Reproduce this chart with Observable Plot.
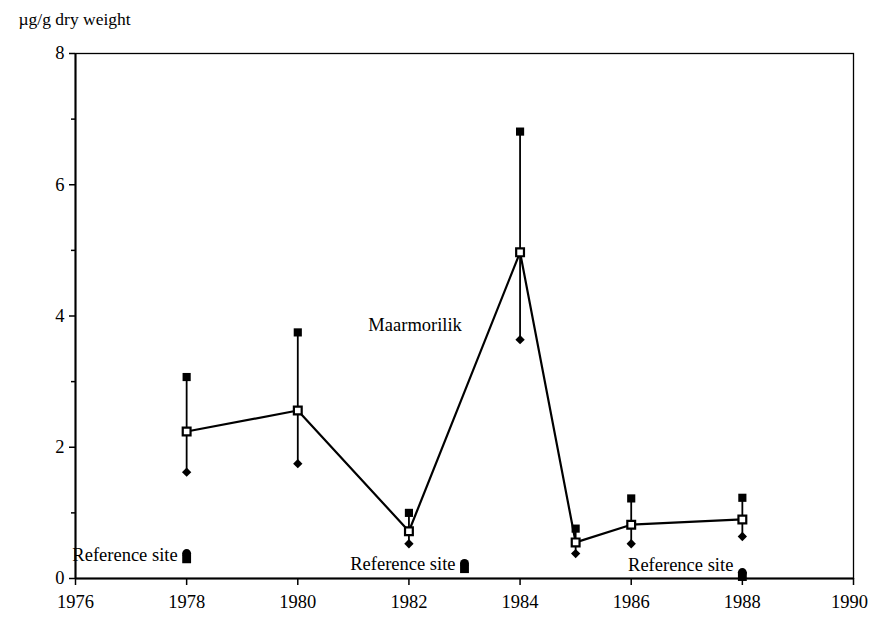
<!DOCTYPE html>
<html>
<head>
<meta charset="utf-8">
<script src="https://cdn.jsdelivr.net/npm/d3@7"></script>
<script src="https://cdn.jsdelivr.net/npm/@observablehq/plot@0.6"></script>
<style>
  body { margin: 0; background: #fff; }
  svg, svg text { font-family: "Liberation Serif", "DejaVu Serif", serif !important; }
</style>
</head>
<body>
<div id="chart"></div>
<script>
// Maarmorilik series
const years = [1978, 1980, 1982, 1984, 1985, 1986, 1988];
const means = [2.24, 2.56, 0.72, 4.97, 0.55, 0.82, 0.90];
const upper = [3.07, 3.75, 1.00, 6.81, 0.76, 1.22, 1.23];
const lower = [1.62, 1.75, 0.53, 3.64, 0.38, 0.53, 0.64];

// Reference site series
const refYears = [1978, 1983, 1988];
const refUpper = [0.38, 0.23, 0.09];
const refLower = [0.30, 0.15, 0.03];
const refLabelY = [0.36, 0.22, 0.20];

const xTicks = [1976, 1978, 1980, 1982, 1984, 1986, 1988];
const xLastTick = [1990];
const yTicks = [0, 2, 4, 6, 8];
const yMinorTicks = [1, 3, 5, 7];
const yLabel = "µg/g dry weight";
const siteLabel = "Maarmorilik";
const refLabel = "Reference site";

const main = years.map((x, i) => ({x, mean: means[i], hi: upper[i], lo: lower[i]}));
const ref = refYears.map((x, i) => ({x, hi: refUpper[i], lo: refLower[i], ly: refLabelY[i]}));

const FF = "Liberation Serif";
const chart = Plot.plot({
  width: 869,
  height: 620,
  marginLeft: 75,
  marginRight: 16,
  marginTop: 53,
  marginBottom: 42,
  style: {fontFamily: FF, fontSize: "18px", color: "black", background: "white"},
  x: {domain: [1976, 1990]},
  y: {domain: [0, 8]},
  marks: [
    Plot.frame({stroke: "black", strokeWidth: 1.3}),
    Plot.ruleX([1976], {stroke: "black", strokeWidth: 2}),
    Plot.ruleY([0], {stroke: "black", strokeWidth: 2}),
    Plot.axisX({ticks: xTicks, tickFormat: d => String(d), tickSize: 7, tickPadding: 9, fontSize: 18.5, fontFamily: FF, label: null, strokeWidth: 1.5}),
    Plot.axisX({ticks: xLastTick, tickSize: 7, text: null, label: null, strokeWidth: 1.5}),
    Plot.axisX({ticks: xLastTick, tickFormat: d => String(d), tickSize: 0, tickPadding: 16, fontSize: 18.5, fontFamily: FF, label: null, dx: -4}),
    Plot.axisY({ticks: yTicks, tickSize: 6, tickPadding: 5, fontSize: 18.5, fontFamily: FF, label: null, strokeWidth: 1.5}),
    Plot.axisY({ticks: yMinorTicks, tickSize: 4, text: null, label: null, strokeWidth: 1.5}),
    // range lines
    Plot.ruleX(main, {x: "x", y1: "lo", y2: "hi", stroke: "black", strokeWidth: 1.8}),
    // mean line
    Plot.line(main, {x: "x", y: "mean", stroke: "black", strokeWidth: 2.2}),
    // upper: filled square
    Plot.dot(main, {x: "x", y: "hi", symbol: "square", r: 4.6, fill: "black"}),
    // lower: filled diamond
    Plot.dot(main, {x: "x", y: "lo", symbol: "diamond2", r: 4.2, fill: "black"}),
    // mean: open square
    Plot.dot(main, {x: "x", y: "mean", symbol: "square", r: 4.4, fill: "white", stroke: "black", strokeWidth: 2.2}),
    // reference site
    Plot.dot(ref, {x: "x", y: "lo", symbol: "square", r: 5.0, fill: "black"}),
    Plot.dot(ref, {x: "x", y: "hi", symbol: "circle", r: 4.5, fill: "black"}),
    Plot.text(ref, {x: "x", y: "ly", text: () => refLabel, textAnchor: "end", dx: -9, fontSize: 18.5, fontFamily: FF}),
    Plot.text([siteLabel], {x: 1981.27, y: 3.86, text: d => d, textAnchor: "start", fontSize: 18.5, fontFamily: FF}),
    Plot.text([yLabel], {frameAnchor: "top-left", text: d => d, dx: -57, dy: -41, textAnchor: "start", fontSize: 17.5, fontFamily: FF})
  ]
});
document.getElementById("chart").appendChild(chart);
</script>
</body>
</html>
